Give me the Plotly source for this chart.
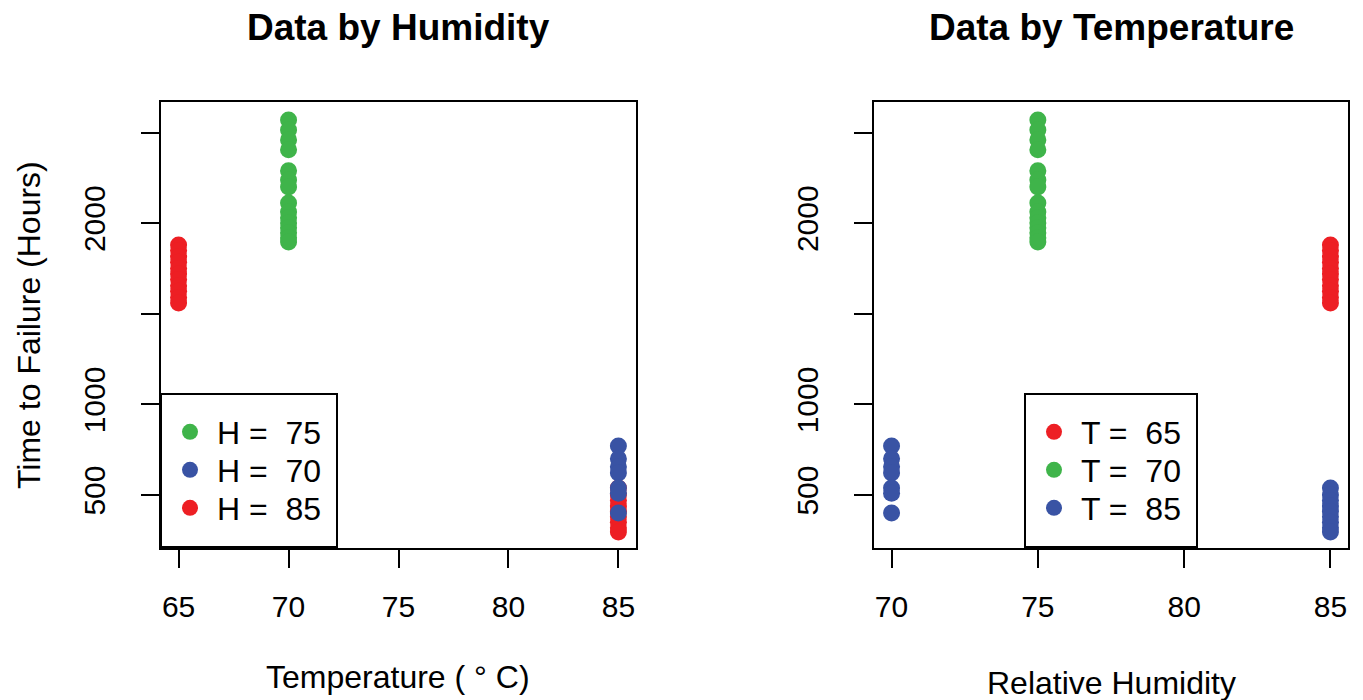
import plotly.graph_objects as go

# ---- data ----
# group A: T=65, H=85
temp_a, hum_a = 65, 85
time_a = [1880, 1850, 1815, 1785, 1750, 1720, 1690, 1655, 1625, 1590, 1560]
# group B: T=70, H=75
temp_b, hum_b = 70, 75
time_b = [2570, 2515, 2460, 2405, 2289, 2239, 2200, 2112, 2062, 2030, 2002, 1975, 1947, 1920, 1897]
# group C: T=85, H=70
temp_c, hum_c = 85, 70
time_c = [771, 700, 656, 622, 539, 510, 401]
# group D: T=85, H=85
temp_d, hum_d = 85, 85
time_d = [539, 500, 470, 440, 410, 380, 350, 320, 296]

x1_ticks = [65, 70, 75, 80, 85]
x2_ticks = [70, 75, 80, 85]
y_tickvals = [500, 1000, 1500, 2000, 2500]
y_ticktext = ["500", "1000", "", "2000", ""]

RED = "#ED1F24"
GREEN = "#3FB44A"
BLUE = "#3953A4"
FONT = "Liberation Sans, Arial, Helvetica, sans-serif"
W, H = 1363, 700
MS = 17

def px_x(p):
    return p / W

def px_y(p):
    return 1 - p / H

fig = go.Figure()

# ---- left panel: coloured by humidity ----
fig.add_trace(go.Scatter(
    x=[temp_a] * len(time_a) + [temp_d] * len(time_d), y=time_a + time_d,
    mode="markers", marker=dict(color=RED, size=MS), name="H =\u00a0\u00a085",
    xaxis="x", yaxis="y", legend="legend3"))
fig.add_trace(go.Scatter(
    x=[temp_b] * len(time_b), y=time_b,
    mode="markers", marker=dict(color=GREEN, size=MS), name="H =\u00a0\u00a075",
    xaxis="x", yaxis="y", legend="legend"))
fig.add_trace(go.Scatter(
    x=[temp_c] * len(time_c), y=time_c,
    mode="markers", marker=dict(color=BLUE, size=MS), name="H =\u00a0\u00a070",
    xaxis="x", yaxis="y", legend="legend2"))

# ---- right panel: coloured by temperature ----
fig.add_trace(go.Scatter(
    x=[hum_a] * len(time_a), y=time_a,
    mode="markers", marker=dict(color=RED, size=MS), name="T =\u00a0\u00a065",
    xaxis="x2", yaxis="y2", legend="legend4"))
fig.add_trace(go.Scatter(
    x=[hum_b] * len(time_b), y=time_b,
    mode="markers", marker=dict(color=GREEN, size=MS), name="T =\u00a0\u00a070",
    xaxis="x2", yaxis="y2", legend="legend5"))
fig.add_trace(go.Scatter(
    x=[hum_c] * len(time_c) + [hum_d] * len(time_d), y=time_c + time_d,
    mode="markers", marker=dict(color=BLUE, size=MS), name="T =\u00a0\u00a085",
    xaxis="x2", yaxis="y2", legend="legend6"))

axis_common = dict(
    showline=True, mirror=True, linecolor="black", linewidth=2,
    ticks="outside", ticklen=18, tickwidth=2, tickcolor="black",
    showgrid=False, zeroline=False,
    tickfont=dict(family=FONT, size=30, color="black"),
)

leg_common = dict(
    xanchor="left", yanchor="middle",
    bgcolor="rgba(0,0,0,0)", borderwidth=0,
    font=dict(family=FONT, size=32, color="black"),
    itemwidth=44, tracegroupgap=0,
)

item_y = [432, 470, 508]
ydom = [px_y(548), px_y(102)]
fig.update_layout(
    width=W, height=H,
    margin=dict(l=0, r=0, t=0, b=0),
    paper_bgcolor="white", plot_bgcolor="white",
    font=dict(family=FONT, color="black"),
    xaxis=dict(domain=[px_x(161), px_x(636)], range=[64.2, 85.8],
               tickvals=x1_ticks, ticklabelstandoff=13, anchor="y", **axis_common),
    yaxis=dict(domain=ydom, range=[208, 2669], tickvals=y_tickvals, ticktext=y_ticktext,
               tickangle=-90, ticklabelstandoff=24, anchor="x", **axis_common),
    xaxis2=dict(domain=[px_x(874), px_x(1348)], range=[69.4, 85.6],
                tickvals=x2_ticks, ticklabelstandoff=13, anchor="y2", **axis_common),
    yaxis2=dict(domain=ydom, range=[208, 2669], tickvals=y_tickvals, ticktext=y_ticktext,
                tickangle=-90, ticklabelstandoff=24, anchor="x2", **axis_common),
    legend=dict(x=px_x(163), y=px_y(item_y[0]), **leg_common),
    legend2=dict(x=px_x(163), y=px_y(item_y[1]), **leg_common),
    legend3=dict(x=px_x(163), y=px_y(item_y[2]), **leg_common),
    legend4=dict(x=px_x(1027), y=px_y(item_y[0]), **leg_common),
    legend5=dict(x=px_x(1027), y=px_y(item_y[1]), **leg_common),
    legend6=dict(x=px_x(1027), y=px_y(item_y[2]), **leg_common),
    showlegend=True,
)

# legend frames
fig.add_shape(type="rect", xref="paper", yref="paper",
              x0=px_x(161), x1=px_x(337), y0=px_y(547), y1=px_y(394),
              line=dict(color="black", width=2), fillcolor="white", layer="above")
fig.add_shape(type="rect", xref="paper", yref="paper",
              x0=px_x(1025), x1=px_x(1197), y0=px_y(547), y1=px_y(394),
              line=dict(color="black", width=2), fillcolor="white", layer="above")

ann_font = dict(family=FONT, size=32, color="black")
title_font = dict(family=FONT, size=37, color="black", weight="bold")
fig.add_annotation(text="<b>Data by Humidity</b>", x=px_x(398.5), y=px_y(27),
                   xref="paper", yref="paper", showarrow=False, borderpad=0,
                   xanchor="center", yanchor="middle", font=title_font)
fig.add_annotation(text="<b>Data by Temperature</b>", x=px_x(1111), y=px_y(27),
                   xref="paper", yref="paper", showarrow=False, borderpad=0,
                   xanchor="center", yanchor="middle", font=title_font)
fig.add_annotation(text="Temperature ( \u00b0 C)", x=px_x(397.5), y=px_y(677),
                   xref="paper", yref="paper", showarrow=False,
                   xanchor="center", yanchor="middle", font=ann_font)
fig.add_annotation(text="Relative Humidity", x=px_x(1111), y=px_y(683),
                   xref="paper", yref="paper", showarrow=False, borderpad=0,
                   xanchor="center", yanchor="middle", font=ann_font)
fig.add_annotation(text="Time to Failure (Hours)", x=px_x(29), y=px_y(325),
                   xref="paper", yref="paper", showarrow=False, textangle=-90,
                   xanchor="center", yanchor="middle", font=ann_font)

# remove the browser's default 8px body margin so the figure fills the window
fig.write_html("out.html", config={"displayModeBar": False},
               post_script="document.body.style.margin='0px';")
